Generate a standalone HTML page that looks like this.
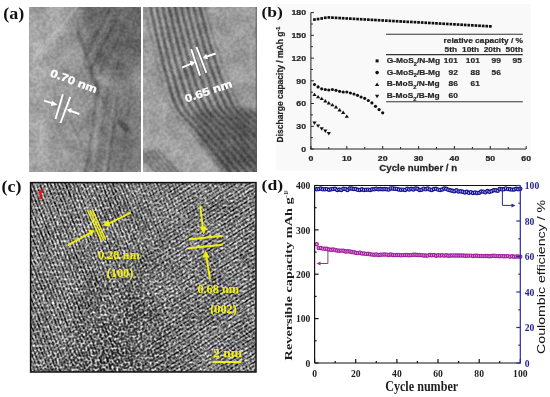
<!DOCTYPE html><html><head><meta charset="utf-8"><style>html,body{margin:0;padding:0;background:#fff;}svg{display:block;will-change:transform}</style></head><body>
<svg width="550" height="397" viewBox="0 0 550 397">
<rect width="550" height="397" fill="#fff"/>
<rect x="276" y="4" width="255" height="166.5" fill="#f9f9f9"/>
<defs>
<filter id="nm" x="0" y="0" width="100%" height="100%" color-interpolation-filters="sRGB"><feTurbulence type="fractalNoise" baseFrequency="0.06" numOctaves="3" seed="4"/><feColorMatrix type="matrix" values="2.2 0 0 0 -0.6000000000000001  2.2 0 0 0 -0.6000000000000001  2.2 0 0 0 -0.6000000000000001  0 0 0 0 0.09"/></filter>
<filter id="nf" x="0" y="0" width="100%" height="100%" color-interpolation-filters="sRGB"><feTurbulence type="fractalNoise" baseFrequency="0.3" numOctaves="2" seed="9"/><feColorMatrix type="matrix" values="2.4 0 0 0 -0.7  2.4 0 0 0 -0.7  2.4 0 0 0 -0.7  0 0 0 0 0.09"/></filter>
<filter id="nc" x="0" y="0" width="100%" height="100%" color-interpolation-filters="sRGB"><feTurbulence type="fractalNoise" baseFrequency="0.42" numOctaves="1" seed="5"/><feColorMatrix type="matrix" values="2.6 0 0 0 -0.92  2.6 0 0 0 -0.92  2.6 0 0 0 -0.92  0 0 0 0 1"/><feComponentTransfer><feFuncR type="gamma" exponent="1.25"/><feFuncG type="gamma" exponent="1.25"/><feFuncB type="gamma" exponent="1.25"/></feComponentTransfer><feGaussianBlur stdDeviation="0.35"/></filter>
<filter id="nc2" x="0" y="0" width="100%" height="100%" color-interpolation-filters="sRGB"><feTurbulence type="fractalNoise" baseFrequency="0.04" numOctaves="3" seed="12"/><feColorMatrix type="matrix" values="2.0 0 0 0 -0.5  2.0 0 0 0 -0.5  2.0 0 0 0 -0.5  0 0 0 0 0.1"/></filter>
<filter id="b05"><feGaussianBlur stdDeviation="0.45"/></filter>
<filter id="b06"><feGaussianBlur stdDeviation="0.6"/></filter>
<filter id="b08"><feGaussianBlur stdDeviation="0.8"/></filter>
<filter id="b1"><feGaussianBlur stdDeviation="1.2"/></filter>
<filter id="b2"><feGaussianBlur stdDeviation="2.5"/></filter>
<filter id="b4" x="-50%" y="-50%" width="200%" height="200%"><feGaussianBlur stdDeviation="6"/></filter>
<filter id="b8" x="-50%" y="-50%" width="200%" height="200%"><feGaussianBlur stdDeviation="10"/></filter>
<clipPath id="ca1"><rect x="29" y="7" width="112" height="165"/></clipPath>
<clipPath id="ca2"><rect x="143" y="7" width="114" height="165"/></clipPath>
<linearGradient id="fg" x1="0" y1="0" x2="1" y2="0.6"><stop offset="0" stop-color="#a8a8a8"/><stop offset="0.4" stop-color="#888"/><stop offset="0.7" stop-color="#303030"/><stop offset="1" stop-color="#202020"/></linearGradient>
<linearGradient id="fg2" x1="0" y1="0" x2="1" y2="0"><stop offset="0.35" stop-color="#000"/><stop offset="0.65" stop-color="#707070"/><stop offset="1" stop-color="#808080"/></linearGradient>
<mask id="fm2" maskUnits="userSpaceOnUse" x="30" y="182" width="226" height="190"><rect x="30" y="182" width="226" height="190" fill="url(#fg2)"/></mask>
<mask id="fm" maskUnits="userSpaceOnUse" x="30" y="182" width="226" height="190"><rect x="30" y="182" width="226" height="190" fill="url(#fg)"/></mask>
<clipPath id="cc"><rect x="30" y="182" width="226" height="190"/></clipPath>
</defs>
<text transform="translate(3.30,19.30) scale(1.14,1)" font-family='"Liberation Serif", serif' font-weight="bold" font-size="15.8" fill="#111" text-anchor="start" >(a)</text>
<text transform="translate(261.50,17.00) scale(1.17,1)" font-family='"Liberation Serif", serif' font-weight="bold" font-size="15" fill="#111" text-anchor="start" >(b)</text>
<text transform="translate(1.40,192.10) scale(1.14,1)" font-family='"Liberation Serif", serif' font-weight="bold" font-size="15.8" fill="#111" text-anchor="start" >(c)</text>
<text transform="translate(261.60,190.40) scale(1.15,1)" font-family='"Liberation Serif", serif' font-weight="bold" font-size="15.3" fill="#111" text-anchor="start" >(d)</text>
<rect x="284" y="190.8" width="3.5" height="1" fill="#777"/>
<g clip-path="url(#ca1)">
<rect x="29" y="7" width="112" height="165" fill="#969696"/>
<g filter="url(#b8)">
<polygon points="10,0 70,0 58,60 50,110 56,180 10,180" fill="#acacac"/>
<polygon points="96,95 150,85 150,180 96,180" fill="#767676"/>
</g>
<g filter="url(#b4)">
<polygon points="78,0 150,0 150,50 125,80 95,70" fill="#646464"/>
<polygon points="36,30 46,30 40,60 30,70" fill="#bdbdbd"/>
</g>
<g filter="url(#b08)" fill="none" stroke-linecap="round">
<path d="M29,66 L76,8" stroke="#d4d4d4" stroke-width="2.2" opacity="0.55"/>
<path d="M32,44 L55,14" stroke="#cccccc" stroke-width="1.6" opacity="0.45"/>
<path d="M40,90 L70,50" stroke="#c4c4c4" stroke-width="1.6" opacity="0.35"/>
<path d="M78,30 L98,88" stroke="#3e3e3e" stroke-width="2.6" opacity="0.55"/>
<path d="M87,66 L115,128" stroke="#444" stroke-width="2.6" opacity="0.5"/>
<path d="M110,8 L84,60" stroke="#444" stroke-width="2.2" opacity="0.55"/>
<path d="M120,12 L92,68" stroke="#404040" stroke-width="2.2" opacity="0.6"/>
<path d="M130,16 L100,74" stroke="#444" stroke-width="2.2" opacity="0.55"/>
<path d="M140,24 L110,80" stroke="#4a4a4a" stroke-width="2.2" opacity="0.5"/>
<path d="M114,9 L88,62" stroke="#b0b0b0" stroke-width="1.4" opacity="0.45"/>
<path d="M98,84 L86,172" stroke="#4a4a4a" stroke-width="2.2" opacity="0.55"/>
<path d="M108,86 L97,172" stroke="#505050" stroke-width="2.0" opacity="0.5"/>
<path d="M118,92 L108,172" stroke="#4a4a4a" stroke-width="2.2" opacity="0.5"/>
<path d="M130,98 L121,172" stroke="#555" stroke-width="2.0" opacity="0.45"/>
<path d="M102,90 L92,172" stroke="#d0d0d0" stroke-width="1.4" opacity="0.45"/>
<path d="M114,100 L104,172" stroke="#c8c8c8" stroke-width="1.4" opacity="0.45"/>
<path d="M70,120 L96,172" stroke="#5a5a5a" stroke-width="2.0" opacity="0.4"/>
<path d="M50,118 L72,172" stroke="#c8c8c8" stroke-width="1.6" opacity="0.4"/>
<path d="M44,120 L38,172" stroke="#cccccc" stroke-width="1.8" opacity="0.4"/>
<path d="M62,128 L56,172" stroke="#c8c8c8" stroke-width="1.8" opacity="0.35"/>
<path d="M120,122 L127,130" stroke="#262626" stroke-width="5.5" opacity="0.7"/>
</g>
<rect x="29" y="7" width="112" height="165" filter="url(#nm)"/>
<rect x="29" y="7" width="112" height="165" filter="url(#nf)"/>
</g>
<g clip-path="url(#ca2)">
<rect x="143" y="7" width="114" height="165" fill="#b0b0b0"/>
<g filter="url(#b4)">
<polygon points="185,115 265,95 265,180 205,180" fill="#7c7c7c"/>
<polygon points="215,132 265,122 265,180 225,180" fill="#6c6c6c"/>
<polygon points="140,100 168,105 172,135 140,140" fill="#b8b8b8"/>
</g>
<g filter="url(#b08)" stroke="#363636" stroke-width="3.1" fill="none" opacity="0.86">
<path d="M130.7,0.0 C132.0,7.0 136.2,29.0 138.8,42.0 C141.5,55.0 143.8,67.0 146.6,78.0 C149.4,89.0 151.0,99.3 155.4,108.0 C159.8,116.7 164.4,119.0 173.2,130.0 C182.0,141.0 200.9,165.0 208.0,174.0 C215.1,183.0 214.7,182.3 216.0,184.0"/>
<path d="M136.8,0.0 C138.2,7.0 142.4,29.0 145.2,42.0 C148.0,55.0 150.5,67.0 153.4,78.0 C156.3,89.0 158.0,99.3 162.6,108.0 C167.2,116.7 171.9,119.0 180.8,130.0 C189.7,141.0 208.8,165.0 216.0,174.0 C223.2,183.0 222.7,182.3 224.0,184.0"/>
<path d="M142.9,0.0 C144.3,7.0 148.7,29.0 151.6,42.0 C154.5,55.0 157.2,67.0 160.2,78.0 C163.2,89.0 165.1,99.3 169.8,108.0 C174.5,116.7 179.4,119.0 188.4,130.0 C197.4,141.0 216.7,165.0 224.0,174.0 C231.3,183.0 230.7,182.3 232.0,184.0"/>
<path d="M149.0,0.0 C150.5,7.0 155.0,29.0 158.0,42.0 C161.0,55.0 163.8,67.0 167.0,78.0 C170.2,89.0 172.2,99.3 177.0,108.0 C181.8,116.7 186.8,119.0 196.0,130.0 C205.2,141.0 224.7,165.0 232.0,174.0 C239.3,183.0 238.7,182.3 240.0,184.0"/>
<path d="M155.1,0.0 C156.7,7.0 161.3,29.0 164.4,42.0 C167.5,55.0 170.5,67.0 173.8,78.0 C177.1,89.0 179.2,99.3 184.2,108.0 C189.2,116.7 194.3,119.0 203.6,130.0 C212.9,141.0 232.6,165.0 240.0,174.0 C247.4,183.0 246.7,182.3 248.0,184.0"/>
<path d="M161.2,0.0 C162.8,7.0 167.6,29.0 170.8,42.0 C174.0,55.0 177.2,67.0 180.6,78.0 C184.0,89.0 186.3,99.3 191.4,108.0 C196.5,116.7 201.8,119.0 211.2,130.0 C220.6,141.0 240.5,165.0 248.0,174.0 C255.5,183.0 254.7,182.3 256.0,184.0"/>
<path d="M167.3,0.0 C169.0,7.0 173.8,29.0 177.2,42.0 C180.5,55.0 183.8,67.0 187.4,78.0 C191.0,89.0 193.4,99.3 198.6,108.0 C203.8,116.7 209.2,119.0 218.8,130.0 C228.4,141.0 248.5,165.0 256.0,174.0 C263.5,183.0 262.7,182.3 264.0,184.0"/>
<path d="M173.4,0.0 C175.1,7.0 180.1,29.0 183.6,42.0 C187.1,55.0 190.5,67.0 194.2,78.0 C197.9,89.0 200.4,99.3 205.8,108.0 C211.2,116.7 216.7,119.0 226.4,130.0 C236.1,141.0 256.4,165.0 264.0,174.0 C271.6,183.0 270.7,182.3 272.0,184.0"/>
<path d="M179.5,0.0 C181.2,7.0 186.4,29.0 190.0,42.0 C193.6,55.0 197.2,67.0 201.0,78.0 C204.8,89.0 207.5,99.3 213.0,108.0 C218.5,116.7 224.2,119.0 234.0,130.0 C243.8,141.0 264.3,165.0 272.0,174.0 C279.7,183.0 278.7,182.3 280.0,184.0"/>
<path d="M185.6,0.0 C187.4,7.0 192.7,29.0 196.4,42.0 C200.1,55.0 203.8,67.0 207.8,78.0 C211.8,89.0 214.6,99.3 220.2,108.0 C225.8,116.7 231.6,119.0 241.6,130.0 C251.6,141.0 272.3,165.0 280.0,174.0 C287.7,183.0 286.7,182.3 288.0,184.0"/>
<path d="M191.7,0.0 C193.5,7.0 199.0,29.0 202.8,42.0 C206.6,55.0 210.5,67.0 214.6,78.0 C218.7,89.0 221.6,99.3 227.4,108.0 C233.2,116.7 239.1,119.0 249.2,130.0 C259.3,141.0 280.2,165.0 288.0,174.0 C295.8,183.0 294.7,182.3 296.0,184.0"/>
<path d="M197.8,0.0 C199.7,7.0 205.3,29.0 209.2,42.0 C213.1,55.0 217.2,67.0 221.4,78.0 C225.6,89.0 228.7,99.3 234.6,108.0 C240.5,116.7 246.6,119.0 256.8,130.0 C267.0,141.0 288.1,165.0 296.0,174.0 C303.9,183.0 302.7,182.3 304.0,184.0"/>
<path d="M203.9,0.0 C205.8,7.0 211.6,29.0 215.6,42.0 C219.6,55.0 223.8,67.0 228.2,78.0 C232.6,89.0 235.8,99.3 241.8,108.0 C247.8,116.7 254.0,119.0 264.4,130.0 C274.8,141.0 296.1,165.0 304.0,174.0 C311.9,183.0 310.7,182.3 312.0,184.0"/>
<path d="M210.0,0.0 C212.0,7.0 217.8,29.0 222.0,42.0 C226.2,55.0 230.5,67.0 235.0,78.0 C239.5,89.0 242.8,99.3 249.0,108.0 C255.2,116.7 261.5,119.0 272.0,130.0 C282.5,141.0 304.0,165.0 312.0,174.0 C320.0,183.0 318.7,182.3 320.0,184.0"/>
<path d="M216.1,0.0 C218.2,7.0 224.1,29.0 228.4,42.0 C232.7,55.0 237.2,67.0 241.8,78.0 C246.4,89.0 249.9,99.3 256.2,108.0 C262.5,116.7 269.0,119.0 279.6,130.0 C290.2,141.0 311.9,165.0 320.0,174.0 C328.1,183.0 326.7,182.3 328.0,184.0"/>
<path d="M222.2,0.0 C224.3,7.0 230.4,29.0 234.8,42.0 C239.2,55.0 243.8,67.0 248.6,78.0 C253.4,89.0 257.0,99.3 263.4,108.0 C269.8,116.7 276.4,119.0 287.2,130.0 C298.0,141.0 319.9,165.0 328.0,174.0 C336.1,183.0 334.7,182.3 336.0,184.0"/>
<path d="M228.3,0.0 C230.5,7.0 236.7,29.0 241.2,42.0 C245.7,55.0 250.5,67.0 255.4,78.0 C260.3,89.0 264.0,99.3 270.6,108.0 C277.2,116.7 283.9,119.0 294.8,130.0 C305.7,141.0 327.8,165.0 336.0,174.0 C344.2,183.0 342.7,182.3 344.0,184.0"/>
<path d="M234.4,0.0 C236.6,7.0 243.0,29.0 247.6,42.0 C252.2,55.0 257.2,67.0 262.2,78.0 C267.2,89.0 271.1,99.3 277.8,108.0 C284.5,116.7 291.4,119.0 302.4,130.0 C313.4,141.0 335.7,165.0 344.0,174.0 C352.3,183.0 350.7,182.3 352.0,184.0"/>
<path d="M240.5,0.0 C242.8,7.0 249.2,29.0 254.0,42.0 C258.8,55.0 263.8,67.0 269.0,78.0 C274.2,89.0 278.2,99.3 285.0,108.0 C291.8,116.7 298.8,119.0 310.0,130.0 C321.2,141.0 343.7,165.0 352.0,174.0 C360.3,183.0 358.7,182.3 360.0,184.0"/>
</g>
<g filter="url(#b2)">
<polygon points="125,0 145,0 153.5,42 162.5,78 172.5,108 190,130 225,174 225,190 125,190" fill="#a6a6a6"/>
<polygon points="203,0 214,42 226,80 240,106 262,112 262,0" fill="#a3a3a3"/>
</g>
<g filter="url(#b08)" stroke="#555" stroke-width="2.4" opacity="0.7">
<line x1="136.0" y1="150" x2="161.0" y2="178"/>
<line x1="141.5" y1="150" x2="166.5" y2="178"/>
<line x1="147.0" y1="150" x2="172.0" y2="178"/>
<line x1="152.5" y1="150" x2="177.5" y2="178"/>
<line x1="158.0" y1="150" x2="183.0" y2="178"/>
</g>
<rect x="143" y="7" width="114" height="165" filter="url(#nm)"/>
<rect x="143" y="7" width="114" height="165" filter="url(#nf)"/>
<rect x="255.6" y="7" width="1.4" height="165" fill="#555" opacity="0.6"/>
</g>
<g stroke="#fff" stroke-width="1.9" fill="#fff" stroke-linecap="butt">
<line x1="62.9" y1="94.3" x2="55.5" y2="118.9"/>
<line x1="70.3" y1="96.8" x2="60.4" y2="123"/>
<line x1="44" y1="100.6" x2="53.5" y2="103.6"/>
<polygon points="57.5,104.8 52,100.8 50.8,106" stroke="none"/>
<line x1="79.3" y1="114" x2="70.5" y2="110.8"/>
<polygon points="66.8,109.5 71.8,108 70.4,113.3" stroke="none"/>
<line x1="191.2" y1="49.1" x2="200" y2="75.6"/>
<line x1="196.5" y1="47" x2="206.4" y2="72.9"/>
<line x1="182" y1="67.6" x2="191.5" y2="63.5"/>
<polygon points="195.2,61.9 189.5,60.8 191.6,66.2" stroke="none"/>
<line x1="215.6" y1="53.5" x2="206.5" y2="56.6"/>
<polygon points="202.8,57.9 206.3,53.8 208,59.2" stroke="none"/>
</g>
<text transform="translate(49.60,76.00) rotate(20.5) scale(1.22,1)" font-family='"Liberation Sans", sans-serif' font-weight="bold" font-size="10.8" fill="#fff" text-anchor="start" stroke="#fff" stroke-width="0.35">0.70 nm</text>
<text transform="translate(186.30,102.40) rotate(-18.5) scale(1.22,1)" font-family='"Liberation Sans", sans-serif' font-weight="bold" font-size="10.8" fill="#fff" text-anchor="start" stroke="#fff" stroke-width="0.35">0.65 nm</text>
<g clip-path="url(#cc)">
<rect x="30" y="182" width="226" height="190" filter="url(#nc)"/>
<g mask="url(#fm)"><g transform="rotate(-22 143 277)" filter="url(#b05)">
<rect x="-80.0" y="120" width="1.5" height="320" fill="#ffffff"/>
<rect x="-78.2" y="120" width="1.2" height="320" fill="#000000"/>
<rect x="-76.6" y="120" width="1.5" height="320" fill="#ffffff"/>
<rect x="-74.8" y="120" width="1.2" height="320" fill="#000000"/>
<rect x="-73.2" y="120" width="1.5" height="320" fill="#ffffff"/>
<rect x="-71.4" y="120" width="1.2" height="320" fill="#000000"/>
<rect x="-69.8" y="120" width="1.5" height="320" fill="#ffffff"/>
<rect x="-68.0" y="120" width="1.2" height="320" fill="#000000"/>
<rect x="-66.4" y="120" width="1.5" height="320" fill="#ffffff"/>
<rect x="-64.6" y="120" width="1.2" height="320" fill="#000000"/>
<rect x="-63.0" y="120" width="1.5" height="320" fill="#ffffff"/>
<rect x="-61.2" y="120" width="1.2" height="320" fill="#000000"/>
<rect x="-59.6" y="120" width="1.5" height="320" fill="#ffffff"/>
<rect x="-57.8" y="120" width="1.2" height="320" fill="#000000"/>
<rect x="-56.2" y="120" width="1.5" height="320" fill="#ffffff"/>
<rect x="-54.4" y="120" width="1.2" height="320" fill="#000000"/>
<rect x="-52.8" y="120" width="1.5" height="320" fill="#ffffff"/>
<rect x="-51.0" y="120" width="1.2" height="320" fill="#000000"/>
<rect x="-49.4" y="120" width="1.5" height="320" fill="#ffffff"/>
<rect x="-47.6" y="120" width="1.2" height="320" fill="#000000"/>
<rect x="-46.0" y="120" width="1.5" height="320" fill="#ffffff"/>
<rect x="-44.2" y="120" width="1.2" height="320" fill="#000000"/>
<rect x="-42.6" y="120" width="1.5" height="320" fill="#ffffff"/>
<rect x="-40.8" y="120" width="1.2" height="320" fill="#000000"/>
<rect x="-39.2" y="120" width="1.5" height="320" fill="#ffffff"/>
<rect x="-37.4" y="120" width="1.2" height="320" fill="#000000"/>
<rect x="-35.8" y="120" width="1.5" height="320" fill="#ffffff"/>
<rect x="-34.0" y="120" width="1.2" height="320" fill="#000000"/>
<rect x="-32.4" y="120" width="1.5" height="320" fill="#ffffff"/>
<rect x="-30.6" y="120" width="1.2" height="320" fill="#000000"/>
<rect x="-29.0" y="120" width="1.5" height="320" fill="#ffffff"/>
<rect x="-27.2" y="120" width="1.2" height="320" fill="#000000"/>
<rect x="-25.6" y="120" width="1.5" height="320" fill="#ffffff"/>
<rect x="-23.8" y="120" width="1.2" height="320" fill="#000000"/>
<rect x="-22.2" y="120" width="1.5" height="320" fill="#ffffff"/>
<rect x="-20.4" y="120" width="1.2" height="320" fill="#000000"/>
<rect x="-18.8" y="120" width="1.5" height="320" fill="#ffffff"/>
<rect x="-17.0" y="120" width="1.2" height="320" fill="#000000"/>
<rect x="-15.4" y="120" width="1.5" height="320" fill="#ffffff"/>
<rect x="-13.6" y="120" width="1.2" height="320" fill="#000000"/>
<rect x="-12.0" y="120" width="1.5" height="320" fill="#ffffff"/>
<rect x="-10.2" y="120" width="1.2" height="320" fill="#000000"/>
<rect x="-8.6" y="120" width="1.5" height="320" fill="#ffffff"/>
<rect x="-6.8" y="120" width="1.2" height="320" fill="#000000"/>
<rect x="-5.2" y="120" width="1.5" height="320" fill="#ffffff"/>
<rect x="-3.4" y="120" width="1.2" height="320" fill="#000000"/>
<rect x="-1.8" y="120" width="1.5" height="320" fill="#ffffff"/>
<rect x="0.0" y="120" width="1.2" height="320" fill="#000000"/>
<rect x="1.6" y="120" width="1.5" height="320" fill="#ffffff"/>
<rect x="3.4" y="120" width="1.2" height="320" fill="#000000"/>
<rect x="5.0" y="120" width="1.5" height="320" fill="#ffffff"/>
<rect x="6.8" y="120" width="1.2" height="320" fill="#000000"/>
<rect x="8.4" y="120" width="1.5" height="320" fill="#ffffff"/>
<rect x="10.2" y="120" width="1.2" height="320" fill="#000000"/>
<rect x="11.8" y="120" width="1.5" height="320" fill="#ffffff"/>
<rect x="13.6" y="120" width="1.2" height="320" fill="#000000"/>
<rect x="15.2" y="120" width="1.5" height="320" fill="#ffffff"/>
<rect x="17.0" y="120" width="1.2" height="320" fill="#000000"/>
<rect x="18.6" y="120" width="1.5" height="320" fill="#ffffff"/>
<rect x="20.4" y="120" width="1.2" height="320" fill="#000000"/>
<rect x="22.0" y="120" width="1.5" height="320" fill="#ffffff"/>
<rect x="23.8" y="120" width="1.2" height="320" fill="#000000"/>
<rect x="25.4" y="120" width="1.5" height="320" fill="#ffffff"/>
<rect x="27.2" y="120" width="1.2" height="320" fill="#000000"/>
<rect x="28.8" y="120" width="1.5" height="320" fill="#ffffff"/>
<rect x="30.6" y="120" width="1.2" height="320" fill="#000000"/>
<rect x="32.2" y="120" width="1.5" height="320" fill="#ffffff"/>
<rect x="34.0" y="120" width="1.2" height="320" fill="#000000"/>
<rect x="35.6" y="120" width="1.5" height="320" fill="#ffffff"/>
<rect x="37.4" y="120" width="1.2" height="320" fill="#000000"/>
<rect x="39.0" y="120" width="1.5" height="320" fill="#ffffff"/>
<rect x="40.8" y="120" width="1.2" height="320" fill="#000000"/>
<rect x="42.4" y="120" width="1.5" height="320" fill="#ffffff"/>
<rect x="44.2" y="120" width="1.2" height="320" fill="#000000"/>
<rect x="45.8" y="120" width="1.5" height="320" fill="#ffffff"/>
<rect x="47.6" y="120" width="1.2" height="320" fill="#000000"/>
<rect x="49.2" y="120" width="1.5" height="320" fill="#ffffff"/>
<rect x="51.0" y="120" width="1.2" height="320" fill="#000000"/>
<rect x="52.6" y="120" width="1.5" height="320" fill="#ffffff"/>
<rect x="54.4" y="120" width="1.2" height="320" fill="#000000"/>
<rect x="56.0" y="120" width="1.5" height="320" fill="#ffffff"/>
<rect x="57.8" y="120" width="1.2" height="320" fill="#000000"/>
<rect x="59.4" y="120" width="1.5" height="320" fill="#ffffff"/>
<rect x="61.2" y="120" width="1.2" height="320" fill="#000000"/>
<rect x="62.8" y="120" width="1.5" height="320" fill="#ffffff"/>
<rect x="64.6" y="120" width="1.2" height="320" fill="#000000"/>
<rect x="66.2" y="120" width="1.5" height="320" fill="#ffffff"/>
<rect x="68.0" y="120" width="1.2" height="320" fill="#000000"/>
<rect x="69.6" y="120" width="1.5" height="320" fill="#ffffff"/>
<rect x="71.4" y="120" width="1.2" height="320" fill="#000000"/>
<rect x="73.0" y="120" width="1.5" height="320" fill="#ffffff"/>
<rect x="74.8" y="120" width="1.2" height="320" fill="#000000"/>
<rect x="76.4" y="120" width="1.5" height="320" fill="#ffffff"/>
<rect x="78.2" y="120" width="1.2" height="320" fill="#000000"/>
<rect x="79.8" y="120" width="1.5" height="320" fill="#ffffff"/>
<rect x="81.6" y="120" width="1.2" height="320" fill="#000000"/>
<rect x="83.2" y="120" width="1.5" height="320" fill="#ffffff"/>
<rect x="85.0" y="120" width="1.2" height="320" fill="#000000"/>
<rect x="86.6" y="120" width="1.5" height="320" fill="#ffffff"/>
<rect x="88.4" y="120" width="1.2" height="320" fill="#000000"/>
<rect x="90.0" y="120" width="1.5" height="320" fill="#ffffff"/>
<rect x="91.8" y="120" width="1.2" height="320" fill="#000000"/>
<rect x="93.4" y="120" width="1.5" height="320" fill="#ffffff"/>
<rect x="95.2" y="120" width="1.2" height="320" fill="#000000"/>
<rect x="96.8" y="120" width="1.5" height="320" fill="#ffffff"/>
<rect x="98.6" y="120" width="1.2" height="320" fill="#000000"/>
<rect x="100.2" y="120" width="1.5" height="320" fill="#ffffff"/>
<rect x="102.0" y="120" width="1.2" height="320" fill="#000000"/>
<rect x="103.6" y="120" width="1.5" height="320" fill="#ffffff"/>
<rect x="105.4" y="120" width="1.2" height="320" fill="#000000"/>
<rect x="107.0" y="120" width="1.5" height="320" fill="#ffffff"/>
<rect x="108.8" y="120" width="1.2" height="320" fill="#000000"/>
<rect x="110.4" y="120" width="1.5" height="320" fill="#ffffff"/>
<rect x="112.2" y="120" width="1.2" height="320" fill="#000000"/>
<rect x="113.8" y="120" width="1.5" height="320" fill="#ffffff"/>
<rect x="115.6" y="120" width="1.2" height="320" fill="#000000"/>
<rect x="117.2" y="120" width="1.5" height="320" fill="#ffffff"/>
<rect x="119.0" y="120" width="1.2" height="320" fill="#000000"/>
<rect x="120.6" y="120" width="1.5" height="320" fill="#ffffff"/>
<rect x="122.4" y="120" width="1.2" height="320" fill="#000000"/>
<rect x="124.0" y="120" width="1.5" height="320" fill="#ffffff"/>
<rect x="125.8" y="120" width="1.2" height="320" fill="#000000"/>
<rect x="127.4" y="120" width="1.5" height="320" fill="#ffffff"/>
<rect x="129.2" y="120" width="1.2" height="320" fill="#000000"/>
<rect x="130.8" y="120" width="1.5" height="320" fill="#ffffff"/>
<rect x="132.6" y="120" width="1.2" height="320" fill="#000000"/>
<rect x="134.2" y="120" width="1.5" height="320" fill="#ffffff"/>
<rect x="136.0" y="120" width="1.2" height="320" fill="#000000"/>
<rect x="137.6" y="120" width="1.5" height="320" fill="#ffffff"/>
<rect x="139.4" y="120" width="1.2" height="320" fill="#000000"/>
<rect x="141.0" y="120" width="1.5" height="320" fill="#ffffff"/>
<rect x="142.8" y="120" width="1.2" height="320" fill="#000000"/>
<rect x="144.4" y="120" width="1.5" height="320" fill="#ffffff"/>
<rect x="146.2" y="120" width="1.2" height="320" fill="#000000"/>
<rect x="147.8" y="120" width="1.5" height="320" fill="#ffffff"/>
<rect x="149.6" y="120" width="1.2" height="320" fill="#000000"/>
<rect x="151.2" y="120" width="1.5" height="320" fill="#ffffff"/>
<rect x="153.0" y="120" width="1.2" height="320" fill="#000000"/>
<rect x="154.6" y="120" width="1.5" height="320" fill="#ffffff"/>
<rect x="156.4" y="120" width="1.2" height="320" fill="#000000"/>
<rect x="158.0" y="120" width="1.5" height="320" fill="#ffffff"/>
<rect x="159.8" y="120" width="1.2" height="320" fill="#000000"/>
<rect x="161.4" y="120" width="1.5" height="320" fill="#ffffff"/>
<rect x="163.2" y="120" width="1.2" height="320" fill="#000000"/>
<rect x="164.8" y="120" width="1.5" height="320" fill="#ffffff"/>
<rect x="166.6" y="120" width="1.2" height="320" fill="#000000"/>
<rect x="168.2" y="120" width="1.5" height="320" fill="#ffffff"/>
<rect x="170.0" y="120" width="1.2" height="320" fill="#000000"/>
<rect x="171.6" y="120" width="1.5" height="320" fill="#ffffff"/>
<rect x="173.4" y="120" width="1.2" height="320" fill="#000000"/>
<rect x="175.0" y="120" width="1.5" height="320" fill="#ffffff"/>
<rect x="176.8" y="120" width="1.2" height="320" fill="#000000"/>
<rect x="178.4" y="120" width="1.5" height="320" fill="#ffffff"/>
<rect x="180.2" y="120" width="1.2" height="320" fill="#000000"/>
<rect x="181.8" y="120" width="1.5" height="320" fill="#ffffff"/>
<rect x="183.6" y="120" width="1.2" height="320" fill="#000000"/>
<rect x="185.2" y="120" width="1.5" height="320" fill="#ffffff"/>
<rect x="187.0" y="120" width="1.2" height="320" fill="#000000"/>
<rect x="188.6" y="120" width="1.5" height="320" fill="#ffffff"/>
<rect x="190.4" y="120" width="1.2" height="320" fill="#000000"/>
<rect x="192.0" y="120" width="1.5" height="320" fill="#ffffff"/>
<rect x="193.8" y="120" width="1.2" height="320" fill="#000000"/>
<rect x="195.4" y="120" width="1.5" height="320" fill="#ffffff"/>
<rect x="197.2" y="120" width="1.2" height="320" fill="#000000"/>
<rect x="198.8" y="120" width="1.5" height="320" fill="#ffffff"/>
<rect x="200.6" y="120" width="1.2" height="320" fill="#000000"/>
<rect x="202.2" y="120" width="1.5" height="320" fill="#ffffff"/>
<rect x="204.0" y="120" width="1.2" height="320" fill="#000000"/>
<rect x="205.6" y="120" width="1.5" height="320" fill="#ffffff"/>
<rect x="207.4" y="120" width="1.2" height="320" fill="#000000"/>
<rect x="209.0" y="120" width="1.5" height="320" fill="#ffffff"/>
<rect x="210.8" y="120" width="1.2" height="320" fill="#000000"/>
<rect x="212.4" y="120" width="1.5" height="320" fill="#ffffff"/>
<rect x="214.2" y="120" width="1.2" height="320" fill="#000000"/>
<rect x="215.8" y="120" width="1.5" height="320" fill="#ffffff"/>
<rect x="217.6" y="120" width="1.2" height="320" fill="#000000"/>
<rect x="219.2" y="120" width="1.5" height="320" fill="#ffffff"/>
<rect x="221.0" y="120" width="1.2" height="320" fill="#000000"/>
<rect x="222.6" y="120" width="1.5" height="320" fill="#ffffff"/>
<rect x="224.4" y="120" width="1.2" height="320" fill="#000000"/>
<rect x="226.0" y="120" width="1.5" height="320" fill="#ffffff"/>
<rect x="227.8" y="120" width="1.2" height="320" fill="#000000"/>
<rect x="229.4" y="120" width="1.5" height="320" fill="#ffffff"/>
<rect x="231.2" y="120" width="1.2" height="320" fill="#000000"/>
<rect x="232.8" y="120" width="1.5" height="320" fill="#ffffff"/>
<rect x="234.6" y="120" width="1.2" height="320" fill="#000000"/>
<rect x="236.2" y="120" width="1.5" height="320" fill="#ffffff"/>
<rect x="238.0" y="120" width="1.2" height="320" fill="#000000"/>
<rect x="239.6" y="120" width="1.5" height="320" fill="#ffffff"/>
<rect x="241.4" y="120" width="1.2" height="320" fill="#000000"/>
<rect x="243.0" y="120" width="1.5" height="320" fill="#ffffff"/>
<rect x="244.8" y="120" width="1.2" height="320" fill="#000000"/>
<rect x="246.4" y="120" width="1.5" height="320" fill="#ffffff"/>
<rect x="248.2" y="120" width="1.2" height="320" fill="#000000"/>
<rect x="249.8" y="120" width="1.5" height="320" fill="#ffffff"/>
<rect x="251.6" y="120" width="1.2" height="320" fill="#000000"/>
<rect x="253.2" y="120" width="1.5" height="320" fill="#ffffff"/>
<rect x="255.0" y="120" width="1.2" height="320" fill="#000000"/>
<rect x="256.6" y="120" width="1.5" height="320" fill="#ffffff"/>
<rect x="258.4" y="120" width="1.2" height="320" fill="#000000"/>
<rect x="260.0" y="120" width="1.5" height="320" fill="#ffffff"/>
<rect x="261.8" y="120" width="1.2" height="320" fill="#000000"/>
<rect x="263.4" y="120" width="1.5" height="320" fill="#ffffff"/>
<rect x="265.2" y="120" width="1.2" height="320" fill="#000000"/>
<rect x="266.8" y="120" width="1.5" height="320" fill="#ffffff"/>
<rect x="268.6" y="120" width="1.2" height="320" fill="#000000"/>
<rect x="270.2" y="120" width="1.5" height="320" fill="#ffffff"/>
<rect x="272.0" y="120" width="1.2" height="320" fill="#000000"/>
<rect x="273.6" y="120" width="1.5" height="320" fill="#ffffff"/>
<rect x="275.4" y="120" width="1.2" height="320" fill="#000000"/>
<rect x="277.0" y="120" width="1.5" height="320" fill="#ffffff"/>
<rect x="278.8" y="120" width="1.2" height="320" fill="#000000"/>
<rect x="280.4" y="120" width="1.5" height="320" fill="#ffffff"/>
<rect x="282.2" y="120" width="1.2" height="320" fill="#000000"/>
<rect x="283.8" y="120" width="1.5" height="320" fill="#ffffff"/>
<rect x="285.6" y="120" width="1.2" height="320" fill="#000000"/>
<rect x="287.2" y="120" width="1.5" height="320" fill="#ffffff"/>
<rect x="289.0" y="120" width="1.2" height="320" fill="#000000"/>
<rect x="290.6" y="120" width="1.5" height="320" fill="#ffffff"/>
<rect x="292.4" y="120" width="1.2" height="320" fill="#000000"/>
<rect x="294.0" y="120" width="1.5" height="320" fill="#ffffff"/>
<rect x="295.8" y="120" width="1.2" height="320" fill="#000000"/>
<rect x="297.4" y="120" width="1.5" height="320" fill="#ffffff"/>
<rect x="299.2" y="120" width="1.2" height="320" fill="#000000"/>
<rect x="300.8" y="120" width="1.5" height="320" fill="#ffffff"/>
<rect x="302.6" y="120" width="1.2" height="320" fill="#000000"/>
<rect x="304.2" y="120" width="1.5" height="320" fill="#ffffff"/>
<rect x="306.0" y="120" width="1.2" height="320" fill="#000000"/>
<rect x="307.6" y="120" width="1.5" height="320" fill="#ffffff"/>
<rect x="309.4" y="120" width="1.2" height="320" fill="#000000"/>
<rect x="311.0" y="120" width="1.5" height="320" fill="#ffffff"/>
<rect x="312.8" y="120" width="1.2" height="320" fill="#000000"/>
<rect x="314.4" y="120" width="1.5" height="320" fill="#ffffff"/>
<rect x="316.2" y="120" width="1.2" height="320" fill="#000000"/>
<rect x="317.8" y="120" width="1.5" height="320" fill="#ffffff"/>
<rect x="319.6" y="120" width="1.2" height="320" fill="#000000"/>
<rect x="321.2" y="120" width="1.5" height="320" fill="#ffffff"/>
<rect x="323.0" y="120" width="1.2" height="320" fill="#000000"/>
<rect x="324.6" y="120" width="1.5" height="320" fill="#ffffff"/>
<rect x="326.4" y="120" width="1.2" height="320" fill="#000000"/>
<rect x="328.0" y="120" width="1.5" height="320" fill="#ffffff"/>
<rect x="329.8" y="120" width="1.2" height="320" fill="#000000"/>
<rect x="331.4" y="120" width="1.5" height="320" fill="#ffffff"/>
<rect x="333.2" y="120" width="1.2" height="320" fill="#000000"/>
<rect x="334.8" y="120" width="1.5" height="320" fill="#ffffff"/>
<rect x="336.6" y="120" width="1.2" height="320" fill="#000000"/>
<rect x="338.2" y="120" width="1.5" height="320" fill="#ffffff"/>
<rect x="340.0" y="120" width="1.2" height="320" fill="#000000"/>
<rect x="341.6" y="120" width="1.5" height="320" fill="#ffffff"/>
<rect x="343.4" y="120" width="1.2" height="320" fill="#000000"/>
<rect x="345.0" y="120" width="1.5" height="320" fill="#ffffff"/>
<rect x="346.8" y="120" width="1.2" height="320" fill="#000000"/>
<rect x="348.4" y="120" width="1.5" height="320" fill="#ffffff"/>
<rect x="350.2" y="120" width="1.2" height="320" fill="#000000"/>
<rect x="351.8" y="120" width="1.5" height="320" fill="#ffffff"/>
<rect x="353.6" y="120" width="1.2" height="320" fill="#000000"/>
<rect x="355.2" y="120" width="1.5" height="320" fill="#ffffff"/>
<rect x="357.0" y="120" width="1.2" height="320" fill="#000000"/>
<rect x="358.6" y="120" width="1.5" height="320" fill="#ffffff"/>
<rect x="360.4" y="120" width="1.2" height="320" fill="#000000"/>
<rect x="362.0" y="120" width="1.5" height="320" fill="#ffffff"/>
<rect x="363.8" y="120" width="1.2" height="320" fill="#000000"/>
<rect x="365.4" y="120" width="1.5" height="320" fill="#ffffff"/>
<rect x="367.2" y="120" width="1.2" height="320" fill="#000000"/>
<rect x="368.8" y="120" width="1.5" height="320" fill="#ffffff"/>
<rect x="370.6" y="120" width="1.2" height="320" fill="#000000"/>
<rect x="372.2" y="120" width="1.5" height="320" fill="#ffffff"/>
<rect x="374.0" y="120" width="1.2" height="320" fill="#000000"/>
<rect x="375.6" y="120" width="1.5" height="320" fill="#ffffff"/>
<rect x="377.4" y="120" width="1.2" height="320" fill="#000000"/>
<rect x="379.0" y="120" width="1.5" height="320" fill="#ffffff"/>
<rect x="380.8" y="120" width="1.2" height="320" fill="#000000"/>
</g></g>
<g mask="url(#fm2)"><g transform="rotate(-32 200 277)" filter="url(#b05)">
<rect x="60" y="120.0" width="300" height="1.5" fill="#ffffff"/>
<rect x="60" y="121.8" width="300" height="1.2" fill="#000000"/>
<rect x="60" y="123.5" width="300" height="1.5" fill="#ffffff"/>
<rect x="60" y="125.3" width="300" height="1.2" fill="#000000"/>
<rect x="60" y="127.0" width="300" height="1.5" fill="#ffffff"/>
<rect x="60" y="128.8" width="300" height="1.2" fill="#000000"/>
<rect x="60" y="130.5" width="300" height="1.5" fill="#ffffff"/>
<rect x="60" y="132.3" width="300" height="1.2" fill="#000000"/>
<rect x="60" y="134.0" width="300" height="1.5" fill="#ffffff"/>
<rect x="60" y="135.8" width="300" height="1.2" fill="#000000"/>
<rect x="60" y="137.5" width="300" height="1.5" fill="#ffffff"/>
<rect x="60" y="139.3" width="300" height="1.2" fill="#000000"/>
<rect x="60" y="141.0" width="300" height="1.5" fill="#ffffff"/>
<rect x="60" y="142.8" width="300" height="1.2" fill="#000000"/>
<rect x="60" y="144.5" width="300" height="1.5" fill="#ffffff"/>
<rect x="60" y="146.3" width="300" height="1.2" fill="#000000"/>
<rect x="60" y="148.0" width="300" height="1.5" fill="#ffffff"/>
<rect x="60" y="149.8" width="300" height="1.2" fill="#000000"/>
<rect x="60" y="151.5" width="300" height="1.5" fill="#ffffff"/>
<rect x="60" y="153.3" width="300" height="1.2" fill="#000000"/>
<rect x="60" y="155.0" width="300" height="1.5" fill="#ffffff"/>
<rect x="60" y="156.8" width="300" height="1.2" fill="#000000"/>
<rect x="60" y="158.5" width="300" height="1.5" fill="#ffffff"/>
<rect x="60" y="160.3" width="300" height="1.2" fill="#000000"/>
<rect x="60" y="162.0" width="300" height="1.5" fill="#ffffff"/>
<rect x="60" y="163.8" width="300" height="1.2" fill="#000000"/>
<rect x="60" y="165.5" width="300" height="1.5" fill="#ffffff"/>
<rect x="60" y="167.3" width="300" height="1.2" fill="#000000"/>
<rect x="60" y="169.0" width="300" height="1.5" fill="#ffffff"/>
<rect x="60" y="170.8" width="300" height="1.2" fill="#000000"/>
<rect x="60" y="172.5" width="300" height="1.5" fill="#ffffff"/>
<rect x="60" y="174.3" width="300" height="1.2" fill="#000000"/>
<rect x="60" y="176.0" width="300" height="1.5" fill="#ffffff"/>
<rect x="60" y="177.8" width="300" height="1.2" fill="#000000"/>
<rect x="60" y="179.5" width="300" height="1.5" fill="#ffffff"/>
<rect x="60" y="181.3" width="300" height="1.2" fill="#000000"/>
<rect x="60" y="183.0" width="300" height="1.5" fill="#ffffff"/>
<rect x="60" y="184.8" width="300" height="1.2" fill="#000000"/>
<rect x="60" y="186.5" width="300" height="1.5" fill="#ffffff"/>
<rect x="60" y="188.3" width="300" height="1.2" fill="#000000"/>
<rect x="60" y="190.0" width="300" height="1.5" fill="#ffffff"/>
<rect x="60" y="191.8" width="300" height="1.2" fill="#000000"/>
<rect x="60" y="193.5" width="300" height="1.5" fill="#ffffff"/>
<rect x="60" y="195.3" width="300" height="1.2" fill="#000000"/>
<rect x="60" y="197.0" width="300" height="1.5" fill="#ffffff"/>
<rect x="60" y="198.8" width="300" height="1.2" fill="#000000"/>
<rect x="60" y="200.5" width="300" height="1.5" fill="#ffffff"/>
<rect x="60" y="202.3" width="300" height="1.2" fill="#000000"/>
<rect x="60" y="204.0" width="300" height="1.5" fill="#ffffff"/>
<rect x="60" y="205.8" width="300" height="1.2" fill="#000000"/>
<rect x="60" y="207.5" width="300" height="1.5" fill="#ffffff"/>
<rect x="60" y="209.3" width="300" height="1.2" fill="#000000"/>
<rect x="60" y="211.0" width="300" height="1.5" fill="#ffffff"/>
<rect x="60" y="212.8" width="300" height="1.2" fill="#000000"/>
<rect x="60" y="214.5" width="300" height="1.5" fill="#ffffff"/>
<rect x="60" y="216.3" width="300" height="1.2" fill="#000000"/>
<rect x="60" y="218.0" width="300" height="1.5" fill="#ffffff"/>
<rect x="60" y="219.8" width="300" height="1.2" fill="#000000"/>
<rect x="60" y="221.5" width="300" height="1.5" fill="#ffffff"/>
<rect x="60" y="223.3" width="300" height="1.2" fill="#000000"/>
<rect x="60" y="225.0" width="300" height="1.5" fill="#ffffff"/>
<rect x="60" y="226.8" width="300" height="1.2" fill="#000000"/>
<rect x="60" y="228.5" width="300" height="1.5" fill="#ffffff"/>
<rect x="60" y="230.3" width="300" height="1.2" fill="#000000"/>
<rect x="60" y="232.0" width="300" height="1.5" fill="#ffffff"/>
<rect x="60" y="233.8" width="300" height="1.2" fill="#000000"/>
<rect x="60" y="235.5" width="300" height="1.5" fill="#ffffff"/>
<rect x="60" y="237.3" width="300" height="1.2" fill="#000000"/>
<rect x="60" y="239.0" width="300" height="1.5" fill="#ffffff"/>
<rect x="60" y="240.8" width="300" height="1.2" fill="#000000"/>
<rect x="60" y="242.5" width="300" height="1.5" fill="#ffffff"/>
<rect x="60" y="244.3" width="300" height="1.2" fill="#000000"/>
<rect x="60" y="246.0" width="300" height="1.5" fill="#ffffff"/>
<rect x="60" y="247.8" width="300" height="1.2" fill="#000000"/>
<rect x="60" y="249.5" width="300" height="1.5" fill="#ffffff"/>
<rect x="60" y="251.3" width="300" height="1.2" fill="#000000"/>
<rect x="60" y="253.0" width="300" height="1.5" fill="#ffffff"/>
<rect x="60" y="254.8" width="300" height="1.2" fill="#000000"/>
<rect x="60" y="256.5" width="300" height="1.5" fill="#ffffff"/>
<rect x="60" y="258.3" width="300" height="1.2" fill="#000000"/>
<rect x="60" y="260.0" width="300" height="1.5" fill="#ffffff"/>
<rect x="60" y="261.8" width="300" height="1.2" fill="#000000"/>
<rect x="60" y="263.5" width="300" height="1.5" fill="#ffffff"/>
<rect x="60" y="265.3" width="300" height="1.2" fill="#000000"/>
<rect x="60" y="267.0" width="300" height="1.5" fill="#ffffff"/>
<rect x="60" y="268.8" width="300" height="1.2" fill="#000000"/>
<rect x="60" y="270.5" width="300" height="1.5" fill="#ffffff"/>
<rect x="60" y="272.3" width="300" height="1.2" fill="#000000"/>
<rect x="60" y="274.0" width="300" height="1.5" fill="#ffffff"/>
<rect x="60" y="275.8" width="300" height="1.2" fill="#000000"/>
<rect x="60" y="277.5" width="300" height="1.5" fill="#ffffff"/>
<rect x="60" y="279.3" width="300" height="1.2" fill="#000000"/>
<rect x="60" y="281.0" width="300" height="1.5" fill="#ffffff"/>
<rect x="60" y="282.8" width="300" height="1.2" fill="#000000"/>
<rect x="60" y="284.5" width="300" height="1.5" fill="#ffffff"/>
<rect x="60" y="286.3" width="300" height="1.2" fill="#000000"/>
<rect x="60" y="288.0" width="300" height="1.5" fill="#ffffff"/>
<rect x="60" y="289.8" width="300" height="1.2" fill="#000000"/>
<rect x="60" y="291.5" width="300" height="1.5" fill="#ffffff"/>
<rect x="60" y="293.3" width="300" height="1.2" fill="#000000"/>
<rect x="60" y="295.0" width="300" height="1.5" fill="#ffffff"/>
<rect x="60" y="296.8" width="300" height="1.2" fill="#000000"/>
<rect x="60" y="298.5" width="300" height="1.5" fill="#ffffff"/>
<rect x="60" y="300.3" width="300" height="1.2" fill="#000000"/>
<rect x="60" y="302.0" width="300" height="1.5" fill="#ffffff"/>
<rect x="60" y="303.8" width="300" height="1.2" fill="#000000"/>
<rect x="60" y="305.5" width="300" height="1.5" fill="#ffffff"/>
<rect x="60" y="307.3" width="300" height="1.2" fill="#000000"/>
<rect x="60" y="309.0" width="300" height="1.5" fill="#ffffff"/>
<rect x="60" y="310.8" width="300" height="1.2" fill="#000000"/>
<rect x="60" y="312.5" width="300" height="1.5" fill="#ffffff"/>
<rect x="60" y="314.3" width="300" height="1.2" fill="#000000"/>
<rect x="60" y="316.0" width="300" height="1.5" fill="#ffffff"/>
<rect x="60" y="317.8" width="300" height="1.2" fill="#000000"/>
<rect x="60" y="319.5" width="300" height="1.5" fill="#ffffff"/>
<rect x="60" y="321.3" width="300" height="1.2" fill="#000000"/>
<rect x="60" y="323.0" width="300" height="1.5" fill="#ffffff"/>
<rect x="60" y="324.8" width="300" height="1.2" fill="#000000"/>
<rect x="60" y="326.5" width="300" height="1.5" fill="#ffffff"/>
<rect x="60" y="328.3" width="300" height="1.2" fill="#000000"/>
<rect x="60" y="330.0" width="300" height="1.5" fill="#ffffff"/>
<rect x="60" y="331.8" width="300" height="1.2" fill="#000000"/>
<rect x="60" y="333.5" width="300" height="1.5" fill="#ffffff"/>
<rect x="60" y="335.3" width="300" height="1.2" fill="#000000"/>
<rect x="60" y="337.0" width="300" height="1.5" fill="#ffffff"/>
<rect x="60" y="338.8" width="300" height="1.2" fill="#000000"/>
<rect x="60" y="340.5" width="300" height="1.5" fill="#ffffff"/>
<rect x="60" y="342.3" width="300" height="1.2" fill="#000000"/>
<rect x="60" y="344.0" width="300" height="1.5" fill="#ffffff"/>
<rect x="60" y="345.8" width="300" height="1.2" fill="#000000"/>
<rect x="60" y="347.5" width="300" height="1.5" fill="#ffffff"/>
<rect x="60" y="349.3" width="300" height="1.2" fill="#000000"/>
<rect x="60" y="351.0" width="300" height="1.5" fill="#ffffff"/>
<rect x="60" y="352.8" width="300" height="1.2" fill="#000000"/>
<rect x="60" y="354.5" width="300" height="1.5" fill="#ffffff"/>
<rect x="60" y="356.3" width="300" height="1.2" fill="#000000"/>
<rect x="60" y="358.0" width="300" height="1.5" fill="#ffffff"/>
<rect x="60" y="359.8" width="300" height="1.2" fill="#000000"/>
<rect x="60" y="361.5" width="300" height="1.5" fill="#ffffff"/>
<rect x="60" y="363.3" width="300" height="1.2" fill="#000000"/>
<rect x="60" y="365.0" width="300" height="1.5" fill="#ffffff"/>
<rect x="60" y="366.8" width="300" height="1.2" fill="#000000"/>
<rect x="60" y="368.5" width="300" height="1.5" fill="#ffffff"/>
<rect x="60" y="370.3" width="300" height="1.2" fill="#000000"/>
<rect x="60" y="372.0" width="300" height="1.5" fill="#ffffff"/>
<rect x="60" y="373.8" width="300" height="1.2" fill="#000000"/>
<rect x="60" y="375.5" width="300" height="1.5" fill="#ffffff"/>
<rect x="60" y="377.3" width="300" height="1.2" fill="#000000"/>
<rect x="60" y="379.0" width="300" height="1.5" fill="#ffffff"/>
<rect x="60" y="380.8" width="300" height="1.2" fill="#000000"/>
<rect x="60" y="382.5" width="300" height="1.5" fill="#ffffff"/>
<rect x="60" y="384.3" width="300" height="1.2" fill="#000000"/>
<rect x="60" y="386.0" width="300" height="1.5" fill="#ffffff"/>
<rect x="60" y="387.8" width="300" height="1.2" fill="#000000"/>
<rect x="60" y="389.5" width="300" height="1.5" fill="#ffffff"/>
<rect x="60" y="391.3" width="300" height="1.2" fill="#000000"/>
<rect x="60" y="393.0" width="300" height="1.5" fill="#ffffff"/>
<rect x="60" y="394.8" width="300" height="1.2" fill="#000000"/>
<rect x="60" y="396.5" width="300" height="1.5" fill="#ffffff"/>
<rect x="60" y="398.3" width="300" height="1.2" fill="#000000"/>
<rect x="60" y="400.0" width="300" height="1.5" fill="#ffffff"/>
<rect x="60" y="401.8" width="300" height="1.2" fill="#000000"/>
<rect x="60" y="403.5" width="300" height="1.5" fill="#ffffff"/>
<rect x="60" y="405.3" width="300" height="1.2" fill="#000000"/>
<rect x="60" y="407.0" width="300" height="1.5" fill="#ffffff"/>
<rect x="60" y="408.8" width="300" height="1.2" fill="#000000"/>
<rect x="60" y="410.5" width="300" height="1.5" fill="#ffffff"/>
<rect x="60" y="412.3" width="300" height="1.2" fill="#000000"/>
<rect x="60" y="414.0" width="300" height="1.5" fill="#ffffff"/>
<rect x="60" y="415.8" width="300" height="1.2" fill="#000000"/>
<rect x="60" y="417.5" width="300" height="1.5" fill="#ffffff"/>
<rect x="60" y="419.3" width="300" height="1.2" fill="#000000"/>
<rect x="60" y="421.0" width="300" height="1.5" fill="#ffffff"/>
<rect x="60" y="422.8" width="300" height="1.2" fill="#000000"/>
<rect x="60" y="424.5" width="300" height="1.5" fill="#ffffff"/>
<rect x="60" y="426.3" width="300" height="1.2" fill="#000000"/>
<rect x="60" y="428.0" width="300" height="1.5" fill="#ffffff"/>
<rect x="60" y="429.8" width="300" height="1.2" fill="#000000"/>
<rect x="60" y="431.5" width="300" height="1.5" fill="#ffffff"/>
<rect x="60" y="433.3" width="300" height="1.2" fill="#000000"/>
<rect x="60" y="435.0" width="300" height="1.5" fill="#ffffff"/>
<rect x="60" y="436.8" width="300" height="1.2" fill="#000000"/>
<rect x="60" y="438.5" width="300" height="1.5" fill="#ffffff"/>
<rect x="60" y="440.3" width="300" height="1.2" fill="#000000"/>
</g></g>
<rect x="30" y="182" width="226" height="190" filter="url(#nc2)"/>
</g>
<rect x="30.6" y="182.6" width="225.4" height="189.4" fill="none" stroke="#111" stroke-width="1.5"/>
<text transform="translate(38.30,199.30)" font-family='"Liberation Serif", serif' font-weight="bold" font-size="15.5" fill="#e41818" text-anchor="start" >f</text>
<g stroke="#f3ee12" stroke-width="1.7" fill="#f3ee12">
<line x1="87.4" y1="210.3" x2="101.4" y2="240.6" stroke-width="1.4"/>
<line x1="89.9" y1="209.8" x2="103.6" y2="240.1" stroke-width="1.4"/>
<line x1="92.3" y1="209.5" x2="105.8" y2="239.6" stroke-width="1.4"/>
<line x1="130.7" y1="212.7" x2="107" y2="224.5" stroke-width="1.9"/>
<polygon points="102.4,225.6 108.2,219.6 111,226.4" stroke="none"/>
<line x1="67.7" y1="245.4" x2="90" y2="233" stroke-width="1.9"/>
<polygon points="94.6,230.6 87.8,229.4 91.2,236.4" stroke="none"/>
<line x1="200.2" y1="205.3" x2="203" y2="229" stroke-width="1.9"/>
<polygon points="203.7,234.5 199.6,226.8 206.8,226.2" stroke="none"/>
<line x1="189.1" y1="239.4" x2="222.4" y2="235.8" stroke-width="2"/>
<line x1="189.1" y1="248.3" x2="222.4" y2="244.7" stroke-width="2"/>
<line x1="210" y1="278.8" x2="206.3" y2="256" stroke-width="1.9"/>
<polygon points="205.6,250.3 202.2,257.8 209.4,257.2" stroke="none"/>
<line x1="213" y1="362" x2="241.5" y2="362" stroke-width="2"/>
</g>
<text transform="translate(98.00,259.30)" font-family='"Liberation Serif", serif' font-weight="bold" font-size="12.3" fill="#f3ee12" text-anchor="start" >0.28 nm</text>
<text transform="translate(106.70,276.50)" font-family='"Liberation Serif", serif' font-weight="bold" font-size="12.3" fill="#f3ee12" text-anchor="start" >(100)</text>
<text transform="translate(197.40,292.70)" font-family='"Liberation Serif", serif' font-weight="bold" font-size="12.3" fill="#f3ee12" text-anchor="start" >0.68 nm</text>
<text transform="translate(210.20,312.80)" font-family='"Liberation Serif", serif' font-weight="bold" font-size="12.3" fill="#f3ee12" text-anchor="start" >(002)</text>
<text transform="translate(213.00,357.00)" font-family='"Liberation Serif", serif' font-weight="bold" font-size="13.5" fill="#f3ee12" text-anchor="start" >2 nm</text>
<g stroke="#222" stroke-width="1" fill="none">
<line x1="310.9" y1="12.599999999999994" x2="310.9" y2="149.5"/>
<line x1="310.4" y1="149.0" x2="526.2" y2="149.0"/>
<line x1="310.9" y1="149.0" x2="313.9" y2="149.0"/>
<line x1="310.9" y1="137.6" x2="312.9" y2="137.6"/>
<line x1="310.9" y1="126.3" x2="313.9" y2="126.3"/>
<line x1="310.9" y1="114.9" x2="312.9" y2="114.9"/>
<line x1="310.9" y1="103.5" x2="313.9" y2="103.5"/>
<line x1="310.9" y1="92.2" x2="312.9" y2="92.2"/>
<line x1="310.9" y1="80.8" x2="313.9" y2="80.8"/>
<line x1="310.9" y1="69.4" x2="312.9" y2="69.4"/>
<line x1="310.9" y1="58.1" x2="313.9" y2="58.1"/>
<line x1="310.9" y1="46.7" x2="312.9" y2="46.7"/>
<line x1="310.9" y1="35.3" x2="313.9" y2="35.3"/>
<line x1="310.9" y1="24.0" x2="312.9" y2="24.0"/>
<line x1="310.9" y1="12.6" x2="313.9" y2="12.6"/>
<line x1="310.9" y1="149.0" x2="310.9" y2="146.0"/>
<line x1="328.8" y1="149.0" x2="328.8" y2="147.0"/>
<line x1="346.8" y1="149.0" x2="346.8" y2="146.0"/>
<line x1="364.7" y1="149.0" x2="364.7" y2="147.0"/>
<line x1="382.7" y1="149.0" x2="382.7" y2="146.0"/>
<line x1="400.6" y1="149.0" x2="400.6" y2="147.0"/>
<line x1="418.6" y1="149.0" x2="418.6" y2="146.0"/>
<line x1="436.5" y1="149.0" x2="436.5" y2="147.0"/>
<line x1="454.4" y1="149.0" x2="454.4" y2="146.0"/>
<line x1="472.4" y1="149.0" x2="472.4" y2="147.0"/>
<line x1="490.3" y1="149.0" x2="490.3" y2="146.0"/>
<line x1="508.3" y1="149.0" x2="508.3" y2="147.0"/>
<line x1="526.2" y1="149.0" x2="526.2" y2="146.0"/>
</g>
<text transform="translate(306.00,151.80) scale(1.12,1)" font-family='"Liberation Sans", sans-serif' font-weight="bold" font-size="7.8" fill="#262626" text-anchor="end" stroke="#262626" stroke-width="0.25">0</text>
<text transform="translate(306.00,129.07) scale(1.12,1)" font-family='"Liberation Sans", sans-serif' font-weight="bold" font-size="7.8" fill="#262626" text-anchor="end" stroke="#262626" stroke-width="0.25">30</text>
<text transform="translate(306.00,106.33) scale(1.12,1)" font-family='"Liberation Sans", sans-serif' font-weight="bold" font-size="7.8" fill="#262626" text-anchor="end" stroke="#262626" stroke-width="0.25">60</text>
<text transform="translate(306.00,83.60) scale(1.12,1)" font-family='"Liberation Sans", sans-serif' font-weight="bold" font-size="7.8" fill="#262626" text-anchor="end" stroke="#262626" stroke-width="0.25">90</text>
<text transform="translate(306.00,60.87) scale(1.12,1)" font-family='"Liberation Sans", sans-serif' font-weight="bold" font-size="7.8" fill="#262626" text-anchor="end" stroke="#262626" stroke-width="0.25">120</text>
<text transform="translate(306.00,38.13) scale(1.12,1)" font-family='"Liberation Sans", sans-serif' font-weight="bold" font-size="7.8" fill="#262626" text-anchor="end" stroke="#262626" stroke-width="0.25">150</text>
<text transform="translate(306.00,15.40) scale(1.12,1)" font-family='"Liberation Sans", sans-serif' font-weight="bold" font-size="7.8" fill="#262626" text-anchor="end" stroke="#262626" stroke-width="0.25">180</text>
<text transform="translate(310.90,160.50) scale(1.12,1)" font-family='"Liberation Sans", sans-serif' font-weight="bold" font-size="7.8" fill="#262626" text-anchor="middle" stroke="#262626" stroke-width="0.25">0</text>
<text transform="translate(346.78,160.50) scale(1.12,1)" font-family='"Liberation Sans", sans-serif' font-weight="bold" font-size="7.8" fill="#262626" text-anchor="middle" stroke="#262626" stroke-width="0.25">10</text>
<text transform="translate(382.67,160.50) scale(1.12,1)" font-family='"Liberation Sans", sans-serif' font-weight="bold" font-size="7.8" fill="#262626" text-anchor="middle" stroke="#262626" stroke-width="0.25">20</text>
<text transform="translate(418.55,160.50) scale(1.12,1)" font-family='"Liberation Sans", sans-serif' font-weight="bold" font-size="7.8" fill="#262626" text-anchor="middle" stroke="#262626" stroke-width="0.25">30</text>
<text transform="translate(454.43,160.50) scale(1.12,1)" font-family='"Liberation Sans", sans-serif' font-weight="bold" font-size="7.8" fill="#262626" text-anchor="middle" stroke="#262626" stroke-width="0.25">40</text>
<text transform="translate(490.32,160.50) scale(1.12,1)" font-family='"Liberation Sans", sans-serif' font-weight="bold" font-size="7.8" fill="#262626" text-anchor="middle" stroke="#262626" stroke-width="0.25">50</text>
<text transform="translate(526.20,160.50) scale(1.12,1)" font-family='"Liberation Sans", sans-serif' font-weight="bold" font-size="7.8" fill="#262626" text-anchor="middle" stroke="#262626" stroke-width="0.25">60</text>
<text transform="translate(418.20,170.80) scale(1.05,1)" font-family='"Liberation Sans", sans-serif' font-weight="bold" font-size="9.2" fill="#262626" text-anchor="middle" stroke="#262626" stroke-width="0.25">Cycle number / n</text>
<text transform="translate(283.30,142.40) rotate(-90) scale(1,1.08)" font-family='"Liberation Sans", sans-serif' font-weight="bold" font-size="8.5" fill="#262626" text-anchor="start" stroke="#262626" stroke-width="0.2">Discharge capacity / mAh g<tspan font-size="5.5" dy="-3.4">-1</tspan></text>
<g fill="#111">
<rect x="313.1" y="18.2" width="2.7" height="2.7"/>
<rect x="316.7" y="17.7" width="2.7" height="2.7"/>
<rect x="320.3" y="17.1" width="2.7" height="2.7"/>
<rect x="323.9" y="16.4" width="2.7" height="2.7"/>
<rect x="327.5" y="16.1" width="2.7" height="2.7"/>
<rect x="331.1" y="16.3" width="2.7" height="2.7"/>
<rect x="334.7" y="16.5" width="2.7" height="2.7"/>
<rect x="338.3" y="16.7" width="2.7" height="2.7"/>
<rect x="341.8" y="16.9" width="2.7" height="2.7"/>
<rect x="345.4" y="17.1" width="2.7" height="2.7"/>
<rect x="349.0" y="17.3" width="2.7" height="2.7"/>
<rect x="352.6" y="17.5" width="2.7" height="2.7"/>
<rect x="356.2" y="17.7" width="2.7" height="2.7"/>
<rect x="359.8" y="17.9" width="2.7" height="2.7"/>
<rect x="363.4" y="18.1" width="2.7" height="2.7"/>
<rect x="367.0" y="18.3" width="2.7" height="2.7"/>
<rect x="370.6" y="18.5" width="2.7" height="2.7"/>
<rect x="374.1" y="18.7" width="2.7" height="2.7"/>
<rect x="377.7" y="18.9" width="2.7" height="2.7"/>
<rect x="381.3" y="19.1" width="2.7" height="2.7"/>
<rect x="384.9" y="19.3" width="2.7" height="2.7"/>
<rect x="388.5" y="19.5" width="2.7" height="2.7"/>
<rect x="392.1" y="19.7" width="2.7" height="2.7"/>
<rect x="395.7" y="19.9" width="2.7" height="2.7"/>
<rect x="399.3" y="20.1" width="2.7" height="2.7"/>
<rect x="402.8" y="20.3" width="2.7" height="2.7"/>
<rect x="406.4" y="20.5" width="2.7" height="2.7"/>
<rect x="410.0" y="20.6" width="2.7" height="2.7"/>
<rect x="413.6" y="20.8" width="2.7" height="2.7"/>
<rect x="417.2" y="21.0" width="2.7" height="2.7"/>
<rect x="420.8" y="21.2" width="2.7" height="2.7"/>
<rect x="424.4" y="21.4" width="2.7" height="2.7"/>
<rect x="428.0" y="21.6" width="2.7" height="2.7"/>
<rect x="431.6" y="21.8" width="2.7" height="2.7"/>
<rect x="435.1" y="22.0" width="2.7" height="2.7"/>
<rect x="438.7" y="22.2" width="2.7" height="2.7"/>
<rect x="442.3" y="22.4" width="2.7" height="2.7"/>
<rect x="445.9" y="22.6" width="2.7" height="2.7"/>
<rect x="449.5" y="22.8" width="2.7" height="2.7"/>
<rect x="453.1" y="23.0" width="2.7" height="2.7"/>
<rect x="456.7" y="23.2" width="2.7" height="2.7"/>
<rect x="460.3" y="23.4" width="2.7" height="2.7"/>
<rect x="463.8" y="23.6" width="2.7" height="2.7"/>
<rect x="467.4" y="23.8" width="2.7" height="2.7"/>
<rect x="471.0" y="24.0" width="2.7" height="2.7"/>
<rect x="474.6" y="24.2" width="2.7" height="2.7"/>
<rect x="478.2" y="24.4" width="2.7" height="2.7"/>
<rect x="481.8" y="24.6" width="2.7" height="2.7"/>
<rect x="485.4" y="24.8" width="2.7" height="2.7"/>
<rect x="489.0" y="25.0" width="2.7" height="2.7"/>
<circle cx="314.5" cy="84.5" r="1.6"/>
<circle cx="318.1" cy="86.9" r="1.6"/>
<circle cx="321.7" cy="88.8" r="1.6"/>
<circle cx="325.3" cy="89.5" r="1.6"/>
<circle cx="328.8" cy="90.0" r="1.6"/>
<circle cx="332.4" cy="89.5" r="1.6"/>
<circle cx="336.0" cy="90.3" r="1.6"/>
<circle cx="339.6" cy="91.3" r="1.6"/>
<circle cx="343.2" cy="92.0" r="1.6"/>
<circle cx="346.8" cy="92.0" r="1.6"/>
<circle cx="350.4" cy="93.0" r="1.6"/>
<circle cx="354.0" cy="94.0" r="1.6"/>
<circle cx="357.5" cy="95.3" r="1.6"/>
<circle cx="361.1" cy="97.0" r="1.6"/>
<circle cx="364.7" cy="98.3" r="1.6"/>
<circle cx="368.3" cy="100.5" r="1.6"/>
<circle cx="371.9" cy="102.9" r="1.6"/>
<circle cx="375.5" cy="106.3" r="1.6"/>
<circle cx="379.1" cy="109.6" r="1.6"/>
<circle cx="382.7" cy="112.8" r="1.6"/>
<polygon points="312.4,96.1 316.6,96.1 314.5,92.7"/>
<polygon points="316.0,98.3 320.2,98.3 318.1,94.9"/>
<polygon points="319.6,100.1 323.8,100.1 321.7,96.7"/>
<polygon points="323.2,102.4 327.4,102.4 325.3,99.0"/>
<polygon points="326.7,104.5 330.9,104.5 328.8,101.1"/>
<polygon points="330.3,106.3 334.5,106.3 332.4,102.9"/>
<polygon points="333.9,108.5 338.1,108.5 336.0,105.1"/>
<polygon points="337.5,111.4 341.7,111.4 339.6,108.0"/>
<polygon points="341.1,114.0 345.3,114.0 343.2,110.6"/>
<polygon points="344.7,117.8 348.9,117.8 346.8,114.4"/>
<polygon points="312.4,121.5 316.6,121.5 314.5,124.9"/>
<polygon points="316.0,124.4 320.2,124.4 318.1,127.8"/>
<polygon points="319.6,127.3 323.8,127.3 321.7,130.7"/>
<polygon points="323.2,129.6 327.4,129.6 325.3,133.0"/>
<polygon points="326.7,132.0 330.9,132.0 328.8,135.4"/>
<rect x="375.6" y="59.4" width="3" height="3"/>
<circle cx="377.1" cy="72.6" r="1.8"/>
<polygon points="375,85.9 379.2,85.9 377.1,82.4"/>
<polygon points="375,94.8 379.2,94.8 377.1,98.3"/>
</g>
<g stroke="#333" stroke-width="1.1">
<line x1="386" y1="34.2" x2="522.8" y2="34.2"/>
<line x1="386" y1="54.6" x2="522.8" y2="54.6"/>
<line x1="386" y1="101.8" x2="522.8" y2="101.8"/>
</g>
<text transform="translate(523.00,42.60) scale(1.18,1)" font-family='"Liberation Sans", sans-serif' font-weight="bold" font-size="7.1" fill="#262626" text-anchor="end" stroke="#262626" stroke-width="0.2">relative capacity / %</text>
<text transform="translate(444.60,52.40) scale(1.18,1)" font-family='"Liberation Sans", sans-serif' font-weight="bold" font-size="7.1" fill="#262626" text-anchor="start" stroke="#262626" stroke-width="0.2">5th</text>
<text transform="translate(462.00,52.40) scale(1.18,1)" font-family='"Liberation Sans", sans-serif' font-weight="bold" font-size="7.1" fill="#262626" text-anchor="start" stroke="#262626" stroke-width="0.2">10th</text>
<text transform="translate(483.70,52.40) scale(1.18,1)" font-family='"Liberation Sans", sans-serif' font-weight="bold" font-size="7.1" fill="#262626" text-anchor="start" stroke="#262626" stroke-width="0.2">20th</text>
<text transform="translate(505.60,52.40) scale(1.18,1)" font-family='"Liberation Sans", sans-serif' font-weight="bold" font-size="7.1" fill="#262626" text-anchor="start" stroke="#262626" stroke-width="0.2">50th</text>
<text transform="translate(386.80,63.40) scale(1.18,1)" font-family='"Liberation Sans", sans-serif' font-weight="bold" font-size="7.1" fill="#262626" text-anchor="start" stroke="#262626" stroke-width="0.2">G-MoS<tspan font-size="4.8" dy="2.6">2</tspan><tspan dy="-2.6">/N-Mg</tspan></text>
<text transform="translate(457.80,63.40) scale(1.18,1)" font-family='"Liberation Sans", sans-serif' font-weight="bold" font-size="7.1" fill="#262626" text-anchor="end" stroke="#262626" stroke-width="0.2">101</text>
<text transform="translate(479.80,63.40) scale(1.18,1)" font-family='"Liberation Sans", sans-serif' font-weight="bold" font-size="7.1" fill="#262626" text-anchor="end" stroke="#262626" stroke-width="0.2">101</text>
<text transform="translate(500.80,63.40) scale(1.18,1)" font-family='"Liberation Sans", sans-serif' font-weight="bold" font-size="7.1" fill="#262626" text-anchor="end" stroke="#262626" stroke-width="0.2">99</text>
<text transform="translate(521.80,63.40) scale(1.18,1)" font-family='"Liberation Sans", sans-serif' font-weight="bold" font-size="7.1" fill="#262626" text-anchor="end" stroke="#262626" stroke-width="0.2">95</text>
<text transform="translate(386.80,74.80) scale(1.18,1)" font-family='"Liberation Sans", sans-serif' font-weight="bold" font-size="7.1" fill="#262626" text-anchor="start" stroke="#262626" stroke-width="0.2">G-MoS<tspan font-size="4.8" dy="2.6">2</tspan><tspan dy="-2.6">/B-Mg</tspan></text>
<text transform="translate(457.80,74.80) scale(1.18,1)" font-family='"Liberation Sans", sans-serif' font-weight="bold" font-size="7.1" fill="#262626" text-anchor="end" stroke="#262626" stroke-width="0.2">92</text>
<text transform="translate(479.80,74.80) scale(1.18,1)" font-family='"Liberation Sans", sans-serif' font-weight="bold" font-size="7.1" fill="#262626" text-anchor="end" stroke="#262626" stroke-width="0.2">88</text>
<text transform="translate(500.80,74.80) scale(1.18,1)" font-family='"Liberation Sans", sans-serif' font-weight="bold" font-size="7.1" fill="#262626" text-anchor="end" stroke="#262626" stroke-width="0.2">56</text>
<text transform="translate(386.80,86.30) scale(1.18,1)" font-family='"Liberation Sans", sans-serif' font-weight="bold" font-size="7.1" fill="#262626" text-anchor="start" stroke="#262626" stroke-width="0.2">B-MoS<tspan font-size="4.8" dy="2.6">2</tspan><tspan dy="-2.6">/N-Mg</tspan></text>
<text transform="translate(457.80,86.30) scale(1.18,1)" font-family='"Liberation Sans", sans-serif' font-weight="bold" font-size="7.1" fill="#262626" text-anchor="end" stroke="#262626" stroke-width="0.2">86</text>
<text transform="translate(479.80,86.30) scale(1.18,1)" font-family='"Liberation Sans", sans-serif' font-weight="bold" font-size="7.1" fill="#262626" text-anchor="end" stroke="#262626" stroke-width="0.2">61</text>
<text transform="translate(386.80,98.00) scale(1.18,1)" font-family='"Liberation Sans", sans-serif' font-weight="bold" font-size="7.1" fill="#262626" text-anchor="start" stroke="#262626" stroke-width="0.2">B-MoS<tspan font-size="4.8" dy="2.6">2</tspan><tspan dy="-2.6">/B-Mg</tspan></text>
<text transform="translate(457.80,98.00) scale(1.18,1)" font-family='"Liberation Sans", sans-serif' font-weight="bold" font-size="7.1" fill="#262626" text-anchor="end" stroke="#262626" stroke-width="0.2">60</text>
<g fill="#b4b4e4" stroke="#14148c" stroke-width="1.15">
<circle cx="316.7" cy="189.3" r="1.65"/>
<circle cx="318.7" cy="189.1" r="1.65"/>
<circle cx="320.8" cy="188.5" r="1.65"/>
<circle cx="322.8" cy="189.3" r="1.65"/>
<circle cx="324.9" cy="189.2" r="1.65"/>
<circle cx="326.9" cy="189.1" r="1.65"/>
<circle cx="329.0" cy="189.7" r="1.65"/>
<circle cx="331.1" cy="189.2" r="1.65"/>
<circle cx="333.1" cy="189.0" r="1.65"/>
<circle cx="335.2" cy="188.8" r="1.65"/>
<circle cx="337.2" cy="189.9" r="1.65"/>
<circle cx="339.3" cy="189.5" r="1.65"/>
<circle cx="341.3" cy="189.9" r="1.65"/>
<circle cx="343.4" cy="188.7" r="1.65"/>
<circle cx="345.5" cy="188.9" r="1.65"/>
<circle cx="347.5" cy="190.0" r="1.65"/>
<circle cx="349.6" cy="188.5" r="1.65"/>
<circle cx="351.6" cy="188.5" r="1.65"/>
<circle cx="353.7" cy="189.0" r="1.65"/>
<circle cx="355.7" cy="189.0" r="1.65"/>
<circle cx="357.8" cy="189.8" r="1.65"/>
<circle cx="359.9" cy="190.0" r="1.65"/>
<circle cx="361.9" cy="189.2" r="1.65"/>
<circle cx="364.0" cy="189.9" r="1.65"/>
<circle cx="366.0" cy="189.7" r="1.65"/>
<circle cx="368.1" cy="189.6" r="1.65"/>
<circle cx="370.1" cy="190.0" r="1.65"/>
<circle cx="372.2" cy="189.3" r="1.65"/>
<circle cx="374.3" cy="189.3" r="1.65"/>
<circle cx="376.3" cy="188.7" r="1.65"/>
<circle cx="378.4" cy="189.2" r="1.65"/>
<circle cx="380.4" cy="189.0" r="1.65"/>
<circle cx="382.5" cy="189.2" r="1.65"/>
<circle cx="384.5" cy="189.0" r="1.65"/>
<circle cx="386.6" cy="189.3" r="1.65"/>
<circle cx="388.7" cy="189.6" r="1.65"/>
<circle cx="390.7" cy="188.4" r="1.65"/>
<circle cx="392.8" cy="188.4" r="1.65"/>
<circle cx="394.8" cy="188.7" r="1.65"/>
<circle cx="396.9" cy="188.9" r="1.65"/>
<circle cx="398.9" cy="189.5" r="1.65"/>
<circle cx="401.0" cy="189.7" r="1.65"/>
<circle cx="403.1" cy="189.6" r="1.65"/>
<circle cx="405.1" cy="189.9" r="1.65"/>
<circle cx="407.2" cy="188.8" r="1.65"/>
<circle cx="409.2" cy="189.4" r="1.65"/>
<circle cx="411.3" cy="188.7" r="1.65"/>
<circle cx="413.3" cy="189.4" r="1.65"/>
<circle cx="415.4" cy="188.5" r="1.65"/>
<circle cx="417.4" cy="188.7" r="1.65"/>
<circle cx="419.5" cy="190.0" r="1.65"/>
<circle cx="421.6" cy="189.7" r="1.65"/>
<circle cx="423.6" cy="188.6" r="1.65"/>
<circle cx="425.7" cy="189.3" r="1.65"/>
<circle cx="427.7" cy="188.5" r="1.65"/>
<circle cx="429.8" cy="189.4" r="1.65"/>
<circle cx="431.8" cy="189.9" r="1.65"/>
<circle cx="433.9" cy="189.0" r="1.65"/>
<circle cx="436.0" cy="188.8" r="1.65"/>
<circle cx="438.0" cy="189.6" r="1.65"/>
<circle cx="440.1" cy="189.9" r="1.65"/>
<circle cx="442.1" cy="189.5" r="1.65"/>
<circle cx="444.2" cy="188.5" r="1.65"/>
<circle cx="446.2" cy="188.8" r="1.65"/>
<circle cx="448.3" cy="189.8" r="1.65"/>
<circle cx="450.4" cy="190.2" r="1.65"/>
<circle cx="452.4" cy="190.7" r="1.65"/>
<circle cx="454.5" cy="191.2" r="1.65"/>
<circle cx="456.5" cy="190.3" r="1.65"/>
<circle cx="458.6" cy="191.6" r="1.65"/>
<circle cx="460.6" cy="191.3" r="1.65"/>
<circle cx="462.7" cy="191.7" r="1.65"/>
<circle cx="464.8" cy="192.4" r="1.65"/>
<circle cx="466.8" cy="191.7" r="1.65"/>
<circle cx="468.9" cy="192.8" r="1.65"/>
<circle cx="470.9" cy="192.1" r="1.65"/>
<circle cx="473.0" cy="193.0" r="1.65"/>
<circle cx="475.0" cy="192.5" r="1.65"/>
<circle cx="477.1" cy="192.9" r="1.65"/>
<circle cx="479.2" cy="192.7" r="1.65"/>
<circle cx="481.2" cy="191.5" r="1.65"/>
<circle cx="483.3" cy="191.6" r="1.65"/>
<circle cx="485.3" cy="192.2" r="1.65"/>
<circle cx="487.4" cy="191.0" r="1.65"/>
<circle cx="489.4" cy="191.8" r="1.65"/>
<circle cx="491.5" cy="191.3" r="1.65"/>
<circle cx="493.6" cy="190.2" r="1.65"/>
<circle cx="495.6" cy="190.2" r="1.65"/>
<circle cx="497.7" cy="190.7" r="1.65"/>
<circle cx="499.7" cy="189.0" r="1.65"/>
<circle cx="501.8" cy="189.3" r="1.65"/>
<circle cx="503.8" cy="189.3" r="1.65"/>
<circle cx="505.9" cy="188.4" r="1.65"/>
<circle cx="508.0" cy="189.1" r="1.65"/>
<circle cx="510.0" cy="189.2" r="1.65"/>
<circle cx="512.1" cy="189.6" r="1.65"/>
<circle cx="514.1" cy="189.5" r="1.65"/>
<circle cx="516.2" cy="188.7" r="1.65"/>
<circle cx="518.2" cy="189.3" r="1.65"/>
<circle cx="520.3" cy="188.7" r="1.65"/>
</g>
<g fill="#dc9cdc" stroke="#a5209f" stroke-width="1.15">
<circle cx="316.7" cy="244.2" r="1.65"/>
<circle cx="318.7" cy="248.1" r="1.65"/>
<circle cx="320.8" cy="248.0" r="1.65"/>
<circle cx="322.8" cy="248.6" r="1.65"/>
<circle cx="324.9" cy="248.8" r="1.65"/>
<circle cx="326.9" cy="248.8" r="1.65"/>
<circle cx="329.0" cy="249.5" r="1.65"/>
<circle cx="331.1" cy="249.8" r="1.65"/>
<circle cx="333.1" cy="249.5" r="1.65"/>
<circle cx="335.2" cy="249.9" r="1.65"/>
<circle cx="337.2" cy="250.5" r="1.65"/>
<circle cx="339.3" cy="250.7" r="1.65"/>
<circle cx="341.3" cy="250.6" r="1.65"/>
<circle cx="343.4" cy="250.8" r="1.65"/>
<circle cx="345.5" cy="251.5" r="1.65"/>
<circle cx="347.5" cy="251.3" r="1.65"/>
<circle cx="349.6" cy="251.5" r="1.65"/>
<circle cx="351.6" cy="252.0" r="1.65"/>
<circle cx="353.7" cy="252.3" r="1.65"/>
<circle cx="355.7" cy="252.8" r="1.65"/>
<circle cx="357.8" cy="253.1" r="1.65"/>
<circle cx="359.9" cy="252.7" r="1.65"/>
<circle cx="361.9" cy="253.4" r="1.65"/>
<circle cx="364.0" cy="253.4" r="1.65"/>
<circle cx="366.0" cy="253.9" r="1.65"/>
<circle cx="368.1" cy="253.8" r="1.65"/>
<circle cx="370.1" cy="254.2" r="1.65"/>
<circle cx="372.2" cy="254.6" r="1.65"/>
<circle cx="374.3" cy="254.7" r="1.65"/>
<circle cx="376.3" cy="254.4" r="1.65"/>
<circle cx="378.4" cy="254.9" r="1.65"/>
<circle cx="380.4" cy="254.8" r="1.65"/>
<circle cx="382.5" cy="254.6" r="1.65"/>
<circle cx="384.5" cy="254.5" r="1.65"/>
<circle cx="386.6" cy="254.6" r="1.65"/>
<circle cx="388.7" cy="254.9" r="1.65"/>
<circle cx="390.7" cy="254.5" r="1.65"/>
<circle cx="392.8" cy="255.0" r="1.65"/>
<circle cx="394.8" cy="255.1" r="1.65"/>
<circle cx="396.9" cy="255.0" r="1.65"/>
<circle cx="398.9" cy="254.9" r="1.65"/>
<circle cx="401.0" cy="255.2" r="1.65"/>
<circle cx="403.1" cy="255.1" r="1.65"/>
<circle cx="405.1" cy="255.0" r="1.65"/>
<circle cx="407.2" cy="254.9" r="1.65"/>
<circle cx="409.2" cy="255.2" r="1.65"/>
<circle cx="411.3" cy="255.1" r="1.65"/>
<circle cx="413.3" cy="254.8" r="1.65"/>
<circle cx="415.4" cy="254.8" r="1.65"/>
<circle cx="417.4" cy="255.0" r="1.65"/>
<circle cx="419.5" cy="255.0" r="1.65"/>
<circle cx="421.6" cy="255.1" r="1.65"/>
<circle cx="423.6" cy="255.4" r="1.65"/>
<circle cx="425.7" cy="255.5" r="1.65"/>
<circle cx="427.7" cy="255.6" r="1.65"/>
<circle cx="429.8" cy="255.0" r="1.65"/>
<circle cx="431.8" cy="255.2" r="1.65"/>
<circle cx="433.9" cy="255.0" r="1.65"/>
<circle cx="436.0" cy="255.7" r="1.65"/>
<circle cx="438.0" cy="255.3" r="1.65"/>
<circle cx="440.1" cy="255.4" r="1.65"/>
<circle cx="442.1" cy="255.3" r="1.65"/>
<circle cx="444.2" cy="255.6" r="1.65"/>
<circle cx="446.2" cy="255.2" r="1.65"/>
<circle cx="448.3" cy="255.8" r="1.65"/>
<circle cx="450.4" cy="255.5" r="1.65"/>
<circle cx="452.4" cy="255.4" r="1.65"/>
<circle cx="454.5" cy="255.4" r="1.65"/>
<circle cx="456.5" cy="255.5" r="1.65"/>
<circle cx="458.6" cy="255.5" r="1.65"/>
<circle cx="460.6" cy="255.5" r="1.65"/>
<circle cx="462.7" cy="255.5" r="1.65"/>
<circle cx="464.8" cy="255.8" r="1.65"/>
<circle cx="466.8" cy="255.7" r="1.65"/>
<circle cx="468.9" cy="255.6" r="1.65"/>
<circle cx="470.9" cy="255.6" r="1.65"/>
<circle cx="473.0" cy="255.9" r="1.65"/>
<circle cx="475.0" cy="255.7" r="1.65"/>
<circle cx="477.1" cy="255.7" r="1.65"/>
<circle cx="479.2" cy="255.9" r="1.65"/>
<circle cx="481.2" cy="255.9" r="1.65"/>
<circle cx="483.3" cy="256.1" r="1.65"/>
<circle cx="485.3" cy="256.0" r="1.65"/>
<circle cx="487.4" cy="256.0" r="1.65"/>
<circle cx="489.4" cy="256.3" r="1.65"/>
<circle cx="491.5" cy="256.0" r="1.65"/>
<circle cx="493.6" cy="255.8" r="1.65"/>
<circle cx="495.6" cy="255.9" r="1.65"/>
<circle cx="497.7" cy="256.1" r="1.65"/>
<circle cx="499.7" cy="256.3" r="1.65"/>
<circle cx="501.8" cy="256.1" r="1.65"/>
<circle cx="503.8" cy="256.2" r="1.65"/>
<circle cx="505.9" cy="256.3" r="1.65"/>
<circle cx="508.0" cy="256.1" r="1.65"/>
<circle cx="510.0" cy="256.6" r="1.65"/>
<circle cx="512.1" cy="256.2" r="1.65"/>
<circle cx="514.1" cy="256.7" r="1.65"/>
<circle cx="516.2" cy="256.4" r="1.65"/>
<circle cx="518.2" cy="256.5" r="1.65"/>
<circle cx="520.3" cy="256.7" r="1.65"/>
</g>
<polyline points="327.9,250 327.9,263.5 319.5,263.5" fill="none" stroke="#8a3a8a" stroke-width="1"/>
<polygon points="316.5,263.5 320.5,261.5 320.5,265.5" fill="#8a3a8a"/>
<polyline points="502.4,189 502.4,205.4 512,205.4" fill="none" stroke="#2a2a9a" stroke-width="1"/>
<polygon points="515.5,205.4 511.5,203.4 511.5,207.4" fill="#2a2a9a"/>
<g stroke="#111" stroke-width="1.2" fill="none">
<line x1="314.6" y1="185.5" x2="314.6" y2="363.0"/>
<line x1="314.6" y1="185.5" x2="520.3" y2="185.5"/>
<line x1="314.6" y1="363.0" x2="520.3" y2="363.0"/>
<line x1="314.6" y1="363.0" x2="318.6" y2="363.0"/>
<line x1="314.6" y1="340.8" x2="316.6" y2="340.8"/>
<line x1="314.6" y1="318.6" x2="318.6" y2="318.6"/>
<line x1="314.6" y1="296.4" x2="316.6" y2="296.4"/>
<line x1="314.6" y1="274.2" x2="318.6" y2="274.2"/>
<line x1="314.6" y1="252.1" x2="316.6" y2="252.1"/>
<line x1="314.6" y1="229.9" x2="318.6" y2="229.9"/>
<line x1="314.6" y1="207.7" x2="316.6" y2="207.7"/>
<line x1="314.6" y1="185.5" x2="318.6" y2="185.5"/>
<line x1="314.6" y1="363.0" x2="314.6" y2="359.0"/>
<line x1="335.2" y1="363.0" x2="335.2" y2="361.0"/>
<line x1="355.7" y1="363.0" x2="355.7" y2="359.0"/>
<line x1="376.3" y1="363.0" x2="376.3" y2="361.0"/>
<line x1="396.9" y1="363.0" x2="396.9" y2="359.0"/>
<line x1="417.4" y1="363.0" x2="417.4" y2="361.0"/>
<line x1="438.0" y1="363.0" x2="438.0" y2="359.0"/>
<line x1="458.6" y1="363.0" x2="458.6" y2="361.0"/>
<line x1="479.2" y1="363.0" x2="479.2" y2="359.0"/>
<line x1="499.7" y1="363.0" x2="499.7" y2="361.0"/>
<line x1="520.3" y1="363.0" x2="520.3" y2="359.0"/>
</g>
<g stroke="#2a2a9a" stroke-width="1.2" fill="none">
<line x1="520.3" y1="185.5" x2="520.3" y2="363.6"/>
<line x1="520.3" y1="363.0" x2="516.3" y2="363.0"/>
<line x1="520.3" y1="345.2" x2="518.3" y2="345.2"/>
<line x1="520.3" y1="327.5" x2="516.3" y2="327.5"/>
<line x1="520.3" y1="309.8" x2="518.3" y2="309.8"/>
<line x1="520.3" y1="292.0" x2="516.3" y2="292.0"/>
<line x1="520.3" y1="274.2" x2="518.3" y2="274.2"/>
<line x1="520.3" y1="256.5" x2="516.3" y2="256.5"/>
<line x1="520.3" y1="238.8" x2="518.3" y2="238.8"/>
<line x1="520.3" y1="221.0" x2="516.3" y2="221.0"/>
<line x1="520.3" y1="203.2" x2="518.3" y2="203.2"/>
<line x1="520.3" y1="185.5" x2="516.3" y2="185.5"/>
</g>
<text transform="translate(310.40,366.80) scale(0.86,1)" font-family='"Liberation Serif", serif' font-weight="bold" font-size="11.2" fill="#1e1e1e" text-anchor="end" >0</text>
<text transform="translate(310.40,322.43) scale(0.86,1)" font-family='"Liberation Serif", serif' font-weight="bold" font-size="11.2" fill="#1e1e1e" text-anchor="end" >100</text>
<text transform="translate(310.40,278.05) scale(0.86,1)" font-family='"Liberation Serif", serif' font-weight="bold" font-size="11.2" fill="#1e1e1e" text-anchor="end" >200</text>
<text transform="translate(310.40,233.68) scale(0.86,1)" font-family='"Liberation Serif", serif' font-weight="bold" font-size="11.2" fill="#1e1e1e" text-anchor="end" >300</text>
<text transform="translate(310.40,189.30) scale(0.86,1)" font-family='"Liberation Serif", serif' font-weight="bold" font-size="11.2" fill="#1e1e1e" text-anchor="end" >400</text>
<text transform="translate(314.60,377.30) scale(0.86,1)" font-family='"Liberation Serif", serif' font-weight="bold" font-size="11.2" fill="#1e1e1e" text-anchor="middle" >0</text>
<text transform="translate(355.74,377.30) scale(0.86,1)" font-family='"Liberation Serif", serif' font-weight="bold" font-size="11.2" fill="#1e1e1e" text-anchor="middle" >20</text>
<text transform="translate(396.88,377.30) scale(0.86,1)" font-family='"Liberation Serif", serif' font-weight="bold" font-size="11.2" fill="#1e1e1e" text-anchor="middle" >40</text>
<text transform="translate(438.02,377.30) scale(0.86,1)" font-family='"Liberation Serif", serif' font-weight="bold" font-size="11.2" fill="#1e1e1e" text-anchor="middle" >60</text>
<text transform="translate(479.16,377.30) scale(0.86,1)" font-family='"Liberation Serif", serif' font-weight="bold" font-size="11.2" fill="#1e1e1e" text-anchor="middle" >80</text>
<text transform="translate(520.30,377.30) scale(0.86,1)" font-family='"Liberation Serif", serif' font-weight="bold" font-size="11.2" fill="#1e1e1e" text-anchor="middle" >100</text>
<text transform="translate(421.70,390.50) scale(0.82,1)" font-family='"Liberation Serif", serif' font-weight="bold" font-size="14.8" fill="#1e1e1e" text-anchor="middle" >Cycle number</text>
<text transform="translate(292.00,360.40) rotate(-90) scale(1,0.74)" font-family='"Liberation Serif", serif' font-weight="bold" font-size="14.3" fill="#1e1e1e" text-anchor="start" >Reversible capacity mAh g<tspan font-size="7" dy="-6">-1</tspan></text>
<text transform="translate(524.80,366.80) scale(0.86,1)" font-family='"Liberation Serif", serif' font-weight="bold" font-size="11.2" fill="#26268a" text-anchor="start" >0</text>
<text transform="translate(524.80,331.30) scale(0.86,1)" font-family='"Liberation Serif", serif' font-weight="bold" font-size="11.2" fill="#26268a" text-anchor="start" >20</text>
<text transform="translate(524.80,295.80) scale(0.86,1)" font-family='"Liberation Serif", serif' font-weight="bold" font-size="11.2" fill="#26268a" text-anchor="start" >40</text>
<text transform="translate(524.80,260.30) scale(0.86,1)" font-family='"Liberation Serif", serif' font-weight="bold" font-size="11.2" fill="#26268a" text-anchor="start" >60</text>
<text transform="translate(524.80,224.80) scale(0.86,1)" font-family='"Liberation Serif", serif' font-weight="bold" font-size="11.2" fill="#26268a" text-anchor="start" >80</text>
<text transform="translate(524.80,189.30) scale(0.86,1)" font-family='"Liberation Serif", serif' font-weight="bold" font-size="11.2" fill="#26268a" text-anchor="start" >100</text>
<text transform="translate(545.20,354.00) rotate(-90) scale(1,0.82)" font-family='"Liberation Sans", sans-serif' font-weight="normal" font-size="14.2" fill="#111" text-anchor="start" >Coulombic efficiency / %</text>
</svg></body></html>
